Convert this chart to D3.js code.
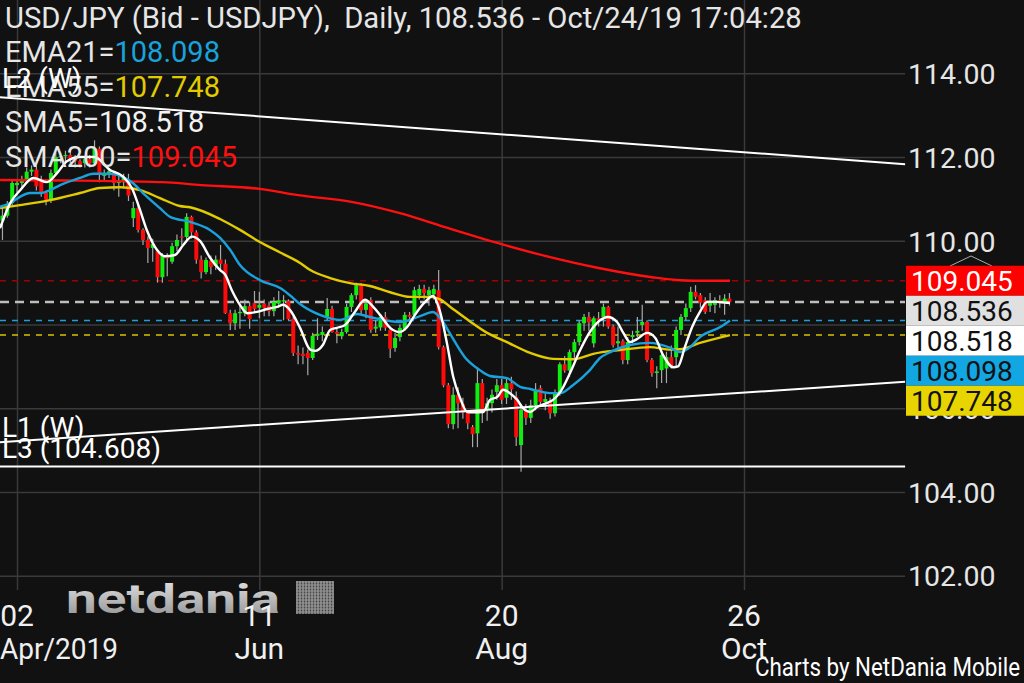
<!DOCTYPE html>
<html><head><meta charset="utf-8">
<script src="https://cdn.jsdelivr.net/npm/d3@7"></script>
<style>
html,body{margin:0;padding:0;background:#111111;}
svg{display:block;}
text{font-family:Roboto,"Noto Sans",sans-serif;}
</style></head><body>
<svg id="c" width="1024" height="683"></svg>
<script>
// ---------- DATA ----------
const firstIndex = -4; // bar index of first candle (0 = 02 Apr 2019)
const opens = [110.7,110.48,110.6,110.9,
111.33,111.38,111.47,111.65,111.7,111.42,111.15,110.98,111.62,112.0,
112.02,112.05,111.95,111.9,111.85,111.95,111.85,112.2,111.55,111.58,
111.62,111.38,111.4,111.4,110.54,110.78,110.26,110.02,109.83,109.75,
109.13,109.62,109.5,109.87,110.1,110.09,110.57,110.2,109.55,109.25,
109.52,109.4,109.55,109.45,108.27,108.03,108.27,108.27,108.44,108.51,
108.4,108.5,108.45,108.32,108.5,108.56,108.56,108.13,107.32,107.3,
107.32,107.2,107.73,107.75,108.18,108.37,107.82,107.72,107.82,108.42,
108.7,108.94,108.35,108.58,107.9,107.93,108.18,107.87,107.44,107.7,
107.9,108.23,108.23,108.7,108.85,108.7,108.72,108.82,107.46,106.55,
105.62,106.32,106.1,105.9,105.55,105.4,106.6,105.96,106.12,106.39,
106.55,106.25,106.6,106.27,105.12,105.96,105.77,106.07,106.48,106.15,
106.15,105.88,106.36,107.05,106.9,107.34,107.58,108.03,108.18,107.55,
108.15,108.18,108.42,107.95,107.55,107.6,107.15,107.7,107.8,107.99,
108.06,107.15,106.84,106.91,106.95,107.22,107.22,107.87,108.18,108.39,
108.78,108.7,108.58,108.45,108.47,108.58,108.52,108.62];
const highs = [110.9,110.8,110.95,111.45,
111.45,111.55,111.75,111.8,111.8,111.55,111.2,111.7,112.1,112.1,
112.15,112.15,112.05,111.95,112.0,112.05,112.4,112.25,111.7,111.72,
111.68,111.6,111.6,111.6,110.93,110.9,110.3,110.1,110.05,109.8,
109.7,109.7,109.95,110.15,110.3,110.66,110.6,110.25,109.65,109.6,
109.65,109.65,109.9,109.55,108.35,108.35,108.45,108.6,108.55,108.8,
108.78,108.6,108.55,108.65,108.8,108.7,108.6,108.2,107.5,107.45,
107.4,107.8,108.15,107.95,108.63,108.45,107.9,107.9,108.5,108.75,
109.0,108.99,108.6,108.65,108.1,108.25,108.3,107.95,107.8,108.0,
108.3,108.3,108.9,108.95,108.95,108.9,108.95,109.3,107.5,106.6,
106.5,106.5,106.25,105.95,105.6,106.98,106.7,106.25,106.45,106.7,
106.7,106.7,106.75,106.4,106.1,106.1,106.2,106.6,106.55,106.35,
106.25,106.45,107.1,107.25,107.4,107.65,108.1,108.25,108.3,108.2,
108.3,108.5,108.45,108.0,107.95,107.65,107.7,107.85,108.18,108.47,
108.1,107.2,107.0,107.35,107.35,107.5,107.95,108.25,108.5,108.9,
108.94,108.75,108.65,108.75,108.65,108.7,108.72,108.75];
const lows = [110.3,110.02,110.55,110.85,
111.15,111.25,111.4,111.55,111.2,111.05,110.85,110.9,111.6,111.85,
111.85,111.85,111.75,111.75,111.75,111.75,111.8,111.4,111.45,111.5,
111.2,111.05,111.25,110.95,110.33,110.2,109.9,109.47,109.5,109.0,
109.0,109.15,109.45,109.75,109.9,110.0,110.05,109.45,109.1,109.2,
109.2,109.3,109.3,108.25,107.87,107.87,107.9,108.2,107.9,108.3,
108.15,108.2,108.2,108.2,108.4,108.1,108.1,107.25,107.05,107.05,
106.79,107.15,107.63,107.6,108.1,107.8,107.55,107.65,107.78,108.3,
108.6,108.25,108.15,107.8,107.8,107.85,107.85,107.2,107.35,107.6,
107.85,108.0,108.15,108.6,108.6,108.45,108.6,107.4,106.5,105.52,
105.5,105.52,105.75,105.5,105.07,105.07,105.65,105.7,105.9,106.2,
106.1,106.1,106.2,105.1,104.48,105.6,105.65,105.95,106.05,105.95,
105.75,105.8,106.3,106.85,106.75,107.2,107.5,107.85,107.85,107.45,
107.95,107.95,107.9,107.45,107.45,107.05,107.05,107.55,107.7,107.85,
107.1,106.75,106.48,106.6,106.6,106.95,107.0,107.75,108.1,108.3,
108.6,108.4,108.25,108.3,108.27,108.4,108.23,108.45];
const closes = [110.5,110.6,110.85,111.38,
111.38,111.47,111.65,111.7,111.3,111.15,110.98,111.62,112.0,112.02,
112.05,111.95,111.9,111.82,111.95,111.85,112.2,111.6,111.62,111.66,
111.38,111.42,111.5,111.08,110.78,110.26,110.02,109.83,109.92,109.13,
109.66,109.58,109.87,110.02,110.07,110.57,110.2,109.55,109.25,109.54,
109.37,109.55,109.45,108.27,108.03,108.27,108.3,108.44,108.13,108.37,
108.47,108.4,108.32,108.54,108.58,108.58,108.13,107.32,107.28,107.25,
107.2,107.73,107.78,107.82,108.37,107.82,107.78,107.82,108.42,108.7,
108.94,108.34,108.5,107.87,107.95,108.18,107.92,107.42,107.68,107.92,
108.23,108.18,108.82,108.85,108.75,108.82,108.85,107.46,106.55,105.62,
106.32,106.12,105.9,105.64,105.38,106.6,105.96,106.12,106.32,106.55,
106.2,106.6,106.45,105.31,105.96,105.77,106.07,106.43,106.15,106.22,
105.88,106.36,107.05,106.9,107.34,107.58,108.03,108.18,108.05,108.15,
108.1,108.42,107.95,107.51,107.6,107.15,107.58,107.75,107.85,108.06,
107.15,106.84,106.88,107.27,107.22,107.0,107.87,108.18,108.39,108.78,
108.66,108.52,108.3,108.55,108.58,108.55,108.62,108.536];

// indicator lines: [bar index, value]
const sma200 = [[-3.5,111.45],[10,111.44],[17,111.43],[30,111.4],[38,111.33],[50,111.24],[58,111.09],[69,110.93],[79,110.66],[89,110.3],[100,109.92],[110,109.61],[120,109.35],[131,109.13],[138,109.05],[141,109.045],[147.1,109.045]];
const ema55 = [[-3.5,110.78],[0.6,110.85],[6.8,110.97],[13,111.14],[17.1,111.26],[21.3,111.28],[23.3,111.26],[25.4,111.21],[29.5,111.02],[33.6,110.83],[35.7,110.8],[41.9,110.52],[46,110.26],[50.1,109.97],[54.3,109.72],[58.4,109.47],[60.5,109.3],[64.6,109.11],[68.7,108.99],[72.8,108.92],[77,108.77],[81.1,108.66],[85.2,108.66],[87.3,108.6],[89.4,108.42],[93.4,108.08],[97,107.8],[101.1,107.58],[105.9,107.32],[110.6,107.18],[114.7,107.17],[118.9,107.3],[124.4,107.39],[130.6,107.46],[134.8,107.4],[136.8,107.41],[140.9,107.56],[147.1,107.748]];
const ema21 = [[-3.5,110.81],[-1.4,110.9],[0.6,111.05],[2.7,111.14],[4.75,111.14],[6.8,111.21],[8.9,111.33],[13,111.5],[15.7,111.6],[19.2,111.6],[21.9,111.52],[23.9,111.38],[26,111.14],[29.5,110.78],[31.6,110.57],[35.7,110.45],[39.8,110.26],[41.9,110.07],[44,109.78],[46,109.42],[50.1,109.06],[54.3,108.87],[56.3,108.7],[58.4,108.49],[62.5,108.23],[66.7,108.11],[70.2,108.25],[72.8,108.18],[77,108.08],[79,108.06],[83.2,108.2],[85.8,108.3],[87.9,108.06],[89.4,107.77],[92.4,107.22],[95.5,106.91],[97.6,106.77],[101.1,106.72],[103.8,106.51],[105.9,106.46],[110,106.36],[112.1,106.36],[114.7,106.55],[118.2,106.91],[120.3,107.2],[122.4,107.34],[126.5,107.51],[130.6,107.56],[134.8,107.44],[136.8,107.34],[138.9,107.46],[140.9,107.7],[145.1,107.94],[147.1,108.098]];
const sma5 = [[-3.5,110.3],[-1.4,110.9],[0.6,111.2],[3.4,111.5],[6.2,111.4],[8.3,111.62],[10.3,111.9],[13,112.0],[16,112.0],[19.2,111.69],[21.9,111.53],[23.7,111.26],[25.4,110.73],[26.8,110.25],[28.9,109.78],[30.5,109.63],[32.6,109.66],[34.3,109.9],[36.1,110.1],[37.8,109.99],[39.8,109.6],[41.9,109.3],[42.9,109.2],[44.4,108.8],[46,108.47],[47.5,108.27],[49.5,108.3],[51.6,108.37],[53.7,108.42],[54.9,108.47],[56.3,108.35],[58.4,107.92],[60.5,107.4],[61.5,107.37],[63.1,107.51],[64.6,107.87],[66,107.92],[67.7,107.99],[69.7,108.3],[71.8,108.59],[73.5,108.42],[74.9,108.23],[77,107.92],[79,107.82],[80.5,107.94],[82.1,108.23],[84.2,108.54],[85.8,108.68],[87.3,108.3],[88.7,107.56],[90,106.75],[91.4,106.25],[92.9,105.91],[94.1,105.9],[96.2,105.91],[97.6,106.2],[99.1,106.27],[100.3,106.44],[101.7,106.36],[103.2,106.2],[104.4,106.0],[105.9,105.91],[107.3,106.03],[109.4,106.13],[110.6,106.2],[112.1,106.39],[114.1,106.84],[116.2,107.39],[118.2,107.82],[120.3,108.1],[121.9,108.18],[123.8,108.06],[125.1,107.8],[126.5,107.58],[127.9,107.65],[130,107.8],[131.7,107.68],[133.3,107.27],[135.4,106.98],[136.4,107.0],[137.8,107.46],[139.3,107.94],[140.9,108.3],[142.4,108.54],[144.4,108.54],[146.5,108.52],[147.1,108.518]];

// trend lines: [bar index, price]
const trendL2 = [[-3.51,113.43],[183.24,111.83]];
const trendL1 = [[-3.51,105.19],[183.24,106.63]];
const levelL3 = 104.608;
const rightEndIndex = 183.24;
const leftEndIndex = -3.51;

const priceTicks = [102,104,106,108,110,112,114];
const hiddenTicks = [108]; // covered by the value boxes in the picture
const timeTicks = [0,50,100,150];
const tickDays = ["02","11","20","26"];
const tickMonths = ["Apr/2019","Jun","Aug","Oct"];

const levels = [
  {name:"SMA200", value:109.045, box:"#ff0000", text:"#ffffff", line:"#a00000", w:1.5, dash:"6,6"},
  {name:"Last",   value:108.536, box:"#e0e0e0", text:"#111111", line:"#bdbdbd", w:2.5, dash:"9,6"},
  {name:"SMA5",   value:108.518, box:"#ffffff", text:"#111111", line:null},
  {name:"EMA21",  value:108.098, box:"#12a6e2", text:"#111111", line:"#1a9fd9", w:1.5, dash:"6,6"},
  {name:"EMA55",  value:107.748, box:"#e8d400", text:"#111111", line:"#d6c200", w:1.5, dash:"6,6"}
];
const titleText = "USD/JPY (Bid - USDJPY),  Daily, 108.536 - Oct/24/19 17:04:28";

// ---------- CHART ----------
const svg = d3.select("#c");
const W = 1024, H = 683, plotRight = 905;
svg.append("rect").attr("width",W).attr("height",H).attr("fill","#111111");

const x = d3.scaleLinear().domain([0,150]).range([17,744]);
const y = d3.scaleLinear().domain([102,114]).range([575.7,73.3]);

// horizontal grid + price labels
const yAxis = svg.append("g").attr("class","yaxis")
  .call(d3.axisRight(y).tickValues(priceTicks).tickSize(plotRight).tickPadding(3)
    .tickFormat(d => hiddenTicks.includes(d) ? "" : d3.format(".2f")(d)));
yAxis.select(".domain").remove();
yAxis.selectAll("line").attr("stroke","#3a3a3a").attr("stroke-width",1.5);
yAxis.selectAll("text").attr("fill","#e6e6e6").attr("font-size",28.5).attr("font-family","Roboto").attr("dy","0.36em");

// vertical grid
const xAxis = svg.append("g").attr("class","xaxis")
  .call(d3.axisBottom(x).tickValues(timeTicks).tickSize(590).tickFormat(""));
xAxis.select(".domain").remove();
xAxis.selectAll("line").attr("stroke","#3a3a3a").attr("stroke-width",1.5);

// logo watermark
const defs = svg.append("defs");
const lg = defs.append("linearGradient").attr("id","lg").attr("x1",0).attr("y1",0).attr("x2",0).attr("y2",1);
lg.append("stop").attr("offset","0%").attr("stop-color","#e8e8e8");
lg.append("stop").attr("offset","100%").attr("stop-color","#8a8a8a");
svg.append("text").attr("x",66).attr("y",613).attr("font-family","DejaVu Sans").attr("font-weight","bold")
  .attr("font-size",40).attr("fill","url(#lg)").attr("textLength",214).attr("lengthAdjust","spacingAndGlyphs")
  .text("netdania");
const icon = svg.append("g");
icon.append("rect").attr("x",296).attr("y",581).attr("width",38).attr("height",33).attr("fill","#444");
d3.range(0,38,3).forEach(d=>icon.append("line").attr("x1",297+d).attr("x2",297+d).attr("y1",581).attr("y2",614).attr("stroke","#bbb").attr("stroke-width",1));
d3.range(0,33,3).forEach(d=>icon.append("line").attr("x1",296).attr("x2",334).attr("y1",582+d).attr("y2",582+d).attr("stroke","#999").attr("stroke-width",1));

// time labels
const tl = svg.append("g");
timeTicks.forEach((t,k)=>{
  tl.append("text").attr("x",x(t)).attr("y",626).attr("text-anchor","middle")
    .attr("fill","#f0f0f0").attr("font-size",30).text(tickDays[k]);
  const m = tl.append("text").attr("y",659).attr("fill","#f0f0f0").attr("font-size",30).text(tickMonths[k]);
  if (k===0) m.attr("x",0).attr("text-anchor","start").attr("textLength",118).attr("lengthAdjust","spacingAndGlyphs");
  else m.attr("x",x(t)).attr("text-anchor","middle");
});

// dashed level lines
levels.filter(l=>l.line).forEach(l=>{
  svg.append("line").attr("x1",0).attr("x2",plotRight).attr("y1",y(l.value)).attr("y2",y(l.value))
    .attr("stroke",l.line).attr("stroke-width",l.w).attr("stroke-dasharray",l.dash);
});

// candles
const candles = opens.map((o,k)=>({i:firstIndex+k,o,h:highs[k],l:lows[k],c:closes[k]}));
const cg = svg.append("g");
cg.selectAll("line.w").data(candles).join("line").attr("class","w")
  .attr("x1",d=>x(d.i)).attr("x2",d=>x(d.i)).attr("y1",d=>y(d.h)).attr("y2",d=>y(d.l))
  .attr("stroke","#a8a8a8").attr("stroke-width",1.2);
const bw = 4;
cg.selectAll("rect.b").data(candles).join("rect").attr("class","b")
  .attr("x",d=>x(d.i)-bw/2).attr("width",bw)
  .attr("y",d=>y(Math.max(d.o,d.c)))
  .attr("height",d=>Math.max(1.2,Math.abs(y(d.o)-y(d.c))))
  .attr("fill",d=>d.c>=d.o?"#10ee10":"#ff0a0a");

// moving averages
const line = d3.line().x(d=>x(d[0])).y(d=>y(d[1])).curve(d3.curveMonotoneX);
[[sma200,"#ff1010"],[ema55,"#e2cc00"],[ema21,"#1aa2dc"],[sma5,"#ffffff"]].forEach(([s,c])=>{
  svg.append("path").datum(s).attr("d",line).attr("fill","none").attr("stroke",c).attr("stroke-width",2.4);
});

// trend lines
const tline = d3.line().x(d=>x(d[0])).y(d=>y(d[1]));
svg.append("path").datum(trendL2).attr("d",tline).attr("stroke","#ffffff").attr("stroke-width",2).attr("fill","none");
svg.append("path").datum(trendL1).attr("d",tline).attr("stroke","#ffffff").attr("stroke-width",2).attr("fill","none");
svg.append("path").datum([[leftEndIndex,levelL3],[rightEndIndex,levelL3]]).attr("d",tline)
  .attr("stroke","#ffffff").attr("stroke-width",2).attr("fill","none");

// caret above labels
svg.append("polyline").attr("points","950,266 971,256 992,266").attr("fill","none").attr("stroke","#aaaaaa").attr("stroke-width",1);

// right value boxes (stacked)
const bh = 30;
let prev = -1e9;
levels.forEach(l=>{
  let cy = Math.max(y(l.value), prev + bh);
  prev = cy;
  svg.append("rect").attr("x",906).attr("y",cy-bh/2).attr("width",W-906).attr("height",bh).attr("fill",l.box);
  svg.append("text").attr("x",911).attr("y",cy).attr("dy","0.36em").attr("fill",l.text).attr("font-size",28).text(l.value.toFixed(3));
});

// top-left legend
const fs = 29.2;
svg.append("text").attr("x",5).attr("y",28).attr("fill","#e6e6e6").attr("font-size",fs).attr("xml:space","preserve").text(titleText);
const leg = [["EMA21=","108.098","#1aa2dc",62],["EMA55=","107.748","#e2cc00",97],["SMA5=","108.518","#f2f2f2",132],["SMA200=","109.045","#ff1010",167]];
leg.forEach(([a,b,c,yy])=>{
  const t = svg.append("text").attr("x",5).attr("y",yy).attr("font-size",29).attr("fill","#e6e6e6");
  t.append("tspan").text(a);
  t.append("tspan").attr("fill",c).text(b);
});

// trend line labels
svg.append("text").attr("x",2).attr("y",88).attr("fill","#ffffff").attr("font-size",27).text("L2 (W)");
svg.append("text").attr("x",2).attr("y",437).attr("fill","#ffffff").attr("font-size",28).text("L1 (W)");
svg.append("text").attr("x",2).attr("y",458).attr("fill","#ffffff").attr("font-size",28).text("L3 (" + levelL3.toFixed(3) + ")");

// credit
svg.append("text").attr("x",755).attr("y",676).attr("fill","#ffffff").attr("font-size",26)
  .attr("textLength",265).attr("lengthAdjust","spacingAndGlyphs").text("Charts by NetDania Mobile");
</script>
</body></html>
